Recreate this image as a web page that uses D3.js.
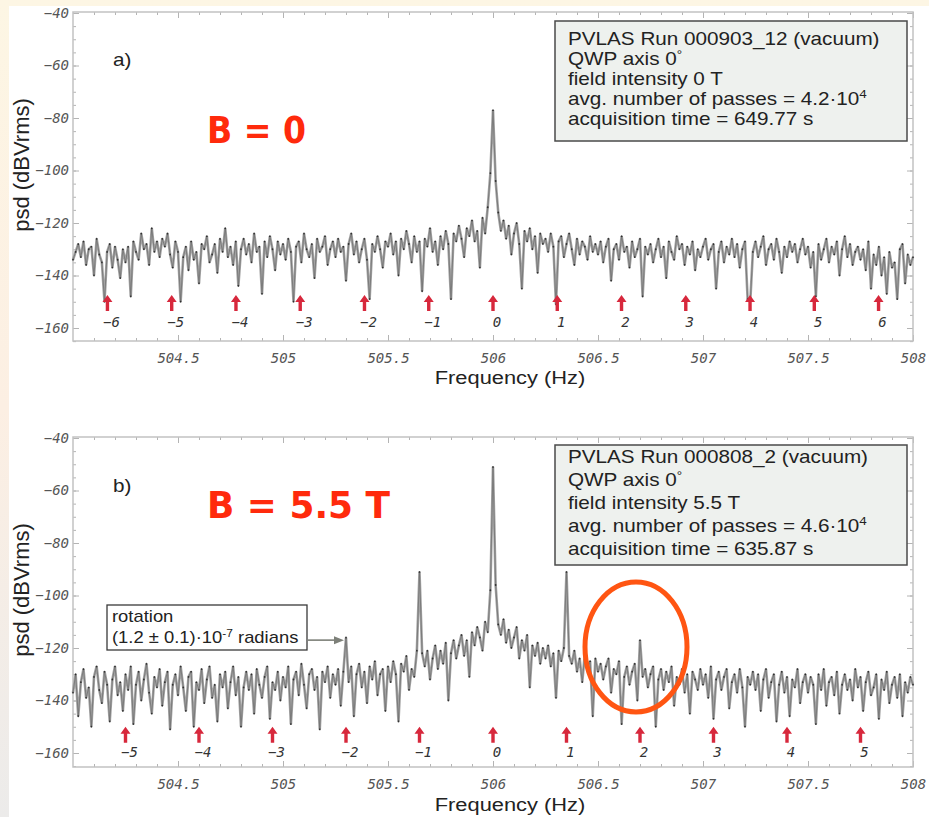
<!DOCTYPE html>
<html lang="en">
<head>
<meta charset="UTF-8" />
<script src="https://d3js.org/d3.v7.min.js"></script>
<title>PVLAS spectra</title>
<style>
  body { margin: 0; background: #fff; }
  svg text { font-family: "Liberation Sans", Arial, sans-serif; }
  .tick text { font-family: "DejaVu Sans Mono", monospace; font-style: italic; font-size: 14px; fill: #555; }
</style>
</head>
<body>
<script type="text/javascript">
// frequency grid of both spectra (Hz)
var f0 = 504.0, df = 0.0125;

// panel a) B = 0, psd in dBVrms, one row = 0.25 Hz
var psdA = [
  -134,-131,-128,-133,-127,-136,-130,-129,-140,-126,-132,-135,-150,-131,-128,-137,-129,-134,-141,-130,
  -135,-129,-148,-127,-131,-134,-124,-130,-128,-136,-122,-131,-127,-133,-126,-129,-124,-132,-137,-127,
  -131,-150,-133,-129,-138,-127,-134,-131,-143,-128,-130,-125,-135,-132,-128,-139,-126,-131,-122,-133,
  -129,-136,-127,-144,-130,-126,-132,-128,-135,-124,-131,-129,-147,-127,-133,-125,-130,-138,-127,-132,
  -128,-134,-126,-131,-150,-129,-127,-135,-124,-130,-133,-128,-141,-126,-131,-129,-125,-136,-130,-127,
  -133,-126,-131,-129,-142,-128,-124,-132,-127,-135,-130,-126,-134,-149,-128,-131,-125,-130,-137,-127,
  -129,-124,-132,-127,-140,-126,-130,-123,-128,-135,-125,-131,-127,-146,-126,-129,-122,-131,-127,-136,
  -125,-130,-123,-128,-149,-124,-127,-121,-126,-133,-122,-125,-119,-127,-123,-137,-118,-124,-114,-101,
  -77,-104,-116,-123,-119,-126,-121,-132,-124,-120,-128,-145,-123,-127,-122,-130,-125,-139,-124,-128,
  -126,-131,-124,-129,-151,-127,-125,-133,-128,-124,-130,-136,-126,-132,-127,-129,-134,-125,-131,-128,
  -132,-127,-135,-129,-126,-142,-130,-128,-134,-125,-131,-129,-137,-127,-133,-130,-126,-148,-129,-132,
  -128,-135,-130,-126,-133,-129,-141,-127,-131,-134,-125,-130,-128,-136,-129,-132,-127,-138,-130,-133,
  -129,-126,-134,-130,-128,-145,-131,-127,-135,-129,-132,-126,-133,-128,-137,-130,-127,-149,-150,-131,
  -127,-133,-129,-125,-136,-130,-128,-134,-126,-131,-139,-129,-133,-127,-131,-128,-135,-130,-126,-132,
  -129,-137,-131,-148,-128,-134,-130,-126,-135,-129,-132,-127,-140,-130,-125,-133,-128,-136,-131,-129,
  -134,-130,-138,-127,-145,-132,-136,-129,-140,-133,-147,-131,-137,-135,-149,-130,-128,-143,-132,-136,
  -133
];

// panel b) B = 5.5 T
var psdB = [
  -137,-130,-146,-133,-128,-139,-135,-150,-131,-127,-136,-141,-129,-134,-148,-132,-127,-138,-133,-144,
  -130,-136,-127,-149,-134,-129,-140,-132,-126,-137,-145,-131,-135,-128,-142,-133,-129,-151,-134,-130,
  -138,-127,-135,-144,-131,-129,-150,-133,-136,-128,-141,-132,-127,-139,-134,-148,-130,-135,-129,-143,
  -133,-127,-138,-131,-150,-135,-129,-136,-130,-145,-128,-134,-139,-131,-127,-147,-133,-136,-129,-140,
  -131,-135,-127,-149,-132,-129,-138,-126,-134,-143,-130,-128,-136,-131,-151,-129,-133,-127,-139,-130,
  -134,-128,-142,-129,-116,-133,-127,-146,-130,-126,-135,-129,-141,-127,-132,-125,-138,-130,-128,-144,
  -127,-133,-125,-130,-148,-126,-129,-123,-136,-128,-131,-121,-91,-122,-127,-121,-132,-124,-119,-128,
  -121,-126,-118,-140,-122,-117,-124,-119,-115,-123,-117,-131,-114,-119,-112,-116,-121,-110,-114,-98,
  -51,-96,-111,-115,-109,-118,-113,-120,-116,-112,-124,-117,-121,-115,-135,-119,-123,-118,-126,-120,
  -124,-119,-127,-122,-139,-121,-125,-120,-91,-123,-126,-121,-129,-124,-133,-122,-128,-125,-146,-124,
  -129,-126,-132,-127,-124,-137,-128,-130,-125,-149,-131,-127,-134,-129,-126,-140,-117,-131,-128,-135,
  -130,-127,-150,-132,-128,-136,-129,-133,-127,-142,-131,-134,-128,-137,-130,-145,-129,-132,-136,-128,
  -134,-130,-139,-127,-147,-132,-129,-136,-131,-128,-143,-133,-130,-137,-128,-135,-150,-131,-134,-129,
  -136,-130,-144,-132,-128,-139,-133,-130,-148,-134,-129,-137,-131,-146,-132,-135,-128,-141,-133,-130,
  -137,-131,-134,-149,-130,-136,-128,-142,-133,-131,-138,-129,-145,-134,-130,-136,-132,-140,-128,-135,
  -131,-144,-133,-129,-138,-135,-130,-147,-132,-136,-129,-141,-134,-131,-139,-130,-146,-133,-137,-131,
  -134
];

// red harmonic markers
var harmA = [-6, -5, -4, -3, -2, -1, 0, 1, 2, 3, 4, 5, 6];
var harmFreqA = [504.164, 504.470, 504.776, 505.082, 505.388, 505.694, 506.000, 506.306, 506.612, 506.918, 507.224, 507.530, 507.836];
var harmB = [-5, -4, -3, -2, -1, 0, 1, 2, 3, 4, 5];
var harmFreqB = [504.25, 504.60, 504.95, 505.30, 505.65, 506.00, 506.35, 506.70, 507.05, 507.40, 507.75];

var xTicks = [504.5, 505, 505.5, 506, 506.5, 507, 507.5, 508];
var yTicks = [-160, -140, -120, -100, -80, -60, -40];

var infoA = [["PVLAS Run 000903_12 (vacuum)"], ["QWP axis 0", "\u00b0"], ["field intensity 0 T"],
             ["avg. number of passes = 4.2\u00b710", "4"], ["acquisition time = 649.77 s"]];
var infoB = [["PVLAS Run 000808_2 (vacuum)"], ["QWP axis 0", "\u00b0"], ["field intensity 5.5 T"],
             ["avg. number of passes = 4.6\u00b710", "4"], ["acquisition time = 635.87 s"]];
var note = [["rotation"], ["(1.2 \u00b1 0.1)\u00b710", "-7", " radians"]];

var W = 929, H = 817;
var svg = d3.select("body").append("svg").attr("width", W).attr("height", H);

var grad = svg.append("defs").append("linearGradient").attr("id", "bg")
  .attr("x1", 0).attr("y1", 0).attr("x2", 0).attr("y2", 1);
grad.append("stop").attr("offset", 0).attr("stop-color", "#fdf6e4");
grad.append("stop").attr("offset", 0.5).attr("stop-color", "#fcefe3");
grad.append("stop").attr("offset", 1).attr("stop-color", "#ecebea");
svg.append("rect").attr("width", W).attr("height", H).attr("fill", "url(#bg)");
svg.append("rect").attr("x", 9).attr("y", 6).attr("width", W - 9).attr("height", H - 6).attr("fill", "#fff");

// text stretched a bit horizontally, like the original figure
function addText(g, px, py, size, parts, anchor) {
  var t = g.append("text")
    .attr("transform", "translate(" + px + "," + py + ") scale(1.15,1)")
    .attr("text-anchor", anchor || "start")
    .style("font-size", size + "px").attr("fill", "#222");
  t.append("tspan").text(parts[0]);
  if (parts[1]) t.append("tspan").attr("dy", -size * 0.4).style("font-size", (size * 0.65) + "px").text(parts[1]);
  if (parts[2]) t.append("tspan").attr("dy", size * 0.4).style("font-size", size + "px").text(parts[2]);
  return t;
}

var x = d3.scaleLinear().domain([504, 508]).range([73, 913]);

function panel(cfg) {
  var g = svg.append("g");
  var y = d3.scaleLinear().domain([-160, -40]).range([cfg.y160, cfg.y40]);
  var top = cfg.top, bottom = cfg.bottom;

  function styleAxis(a) {
    a.select(".domain").remove();
    a.selectAll(".tick line").attr("stroke", "#b4b4b4");
  }
  var minorX = d3.range(504.1, 508, 0.1);
  var minorY = d3.range(-165, -39, 5);

  g.append("g").attr("transform", "translate(0," + bottom + ")")
    .call(d3.axisBottom(x).tickValues(minorX).tickSizeInner(-3).tickSizeOuter(0).tickFormat("")).call(styleAxis);
  g.append("g").attr("transform", "translate(0," + bottom + ")")
    .call(d3.axisBottom(x).tickValues(xTicks).tickSizeInner(-6).tickSizeOuter(0).tickPadding(12)
      .tickFormat(function(d) { return d3.format("")(d); })).call(styleAxis);
  g.append("g").attr("transform", "translate(0," + top + ")")
    .call(d3.axisTop(x).tickValues(minorX).tickSizeInner(-3).tickSizeOuter(0).tickFormat("")).call(styleAxis);
  g.append("g").attr("transform", "translate(0," + top + ")")
    .call(d3.axisTop(x).tickValues(xTicks).tickSizeInner(-6).tickSizeOuter(0).tickFormat("")).call(styleAxis);
  g.append("g").attr("transform", "translate(73,0)")
    .call(d3.axisLeft(y).tickValues(minorY).tickSizeInner(-3).tickSizeOuter(0).tickFormat("")).call(styleAxis);
  g.append("g").attr("transform", "translate(73,0)")
    .call(d3.axisLeft(y).tickValues(yTicks).tickSizeInner(-6).tickSizeOuter(0).tickPadding(4)
      .tickFormat(d3.format(""))).call(styleAxis);
  g.append("g").attr("transform", "translate(913,0)")
    .call(d3.axisRight(y).tickValues(minorY).tickSizeInner(-3).tickSizeOuter(0).tickFormat("")).call(styleAxis);
  g.append("g").attr("transform", "translate(913,0)")
    .call(d3.axisRight(y).tickValues(yTicks).tickSizeInner(-6).tickSizeOuter(0).tickFormat("")).call(styleAxis);

  g.append("rect").attr("x", 73).attr("y", top).attr("width", 840).attr("height", bottom - top)
    .attr("fill", "none").attr("stroke", "#c2c2c2").attr("stroke-width", 1.5);

  // spectrum: wide light trace with a thin dark core
  var line = d3.line().x(function(d, i) { return x(f0 + i * df); }).y(function(d) { return y(d); });
  g.append("path").datum(cfg.data).attr("d", line)
    .attr("fill", "none").attr("stroke", "#a4a4a4").attr("stroke-width", 2.6).attr("stroke-linejoin", "bevel");
  g.append("path").datum(cfg.data).attr("d", line)
    .attr("fill", "none").attr("stroke", "#6a6a6a").attr("stroke-width", 0.7);
  g.selectAll("circle.pt").data(cfg.data).enter().append("circle").attr("class", "pt")
    .attr("cx", function(d, i) { return x(f0 + i * df); }).attr("cy", function(d) { return y(d); })
    .attr("r", 0.9).attr("fill", "#1a1a1a").attr("opacity", 0.8);

  // harmonic arrows
  var arrow = "M0,0L-5,7L-1.7,7L-1.7,16L1.7,16L1.7,7L5,7Z";
  g.selectAll("path.harm").data(cfg.harmFreq).enter().append("path").attr("class", "harm")
    .attr("transform", function(d) { return "translate(" + x(d) + "," + y(cfg.arrowTip) + ")"; })
    .attr("d", arrow).attr("fill", "#d7283c");
  g.selectAll("text.harm").data(cfg.harm).enter().append("text").attr("class", "harm")
    .attr("x", function(d, i) { return x(cfg.harmFreq[i]) + 4; }).attr("y", y(cfg.labelAt))
    .attr("text-anchor", "middle")
    .style("font-family", "'DejaVu Sans Mono', monospace").style("font-style", "italic")
    .style("font-size", "14px").attr("fill", "#333")
    .text(function(d) { return d3.format("")(d); });

  // axis titles
  addText(g, 510, cfg.xTitleY, 19, ["Frequency (Hz)"], "middle");
  g.append("text").attr("transform", "translate(29," + (top + 153) + ") rotate(-90)")
    .attr("text-anchor", "middle").style("font-size", "22px").attr("fill", "#222").text("psd (dBVrms)");

  addText(g, 113, cfg.tagY, 18, [cfg.tag]);

  // info box
  g.append("rect").attr("x", 555).attr("y", cfg.boxY).attr("width", 352).attr("height", 120)
    .attr("fill", "#eef1ee").attr("stroke", "#4a4a4a").attr("stroke-width", 1.5);
  cfg.info.forEach(function(p, i) { addText(g, 568, cfg.boxY + cfg.line0 + i * cfg.lineStep, 18, p); });

  g.append("text").attr("x", 207).attr("y", cfg.bY).attr("textLength", cfg.bLen).attr("lengthAdjust", "spacingAndGlyphs")
    .style("font-family", "'DejaVu Sans', sans-serif").style("font-weight", "bold").style("font-size", "38px")
    .attr("fill", "#ff2a0c").text(cfg.bText);

  return {g: g, y: y};
}

var pa = panel({data: psdA, top: 12, bottom: 341, y40: 13, y160: 328, harm: harmA, harmFreq: harmFreqA,
  arrowTip: -147.4, labelAt: -159.6, xTitleY: 384, tag: "a)", tagY: 66, boxY: 21, line0: 24, lineStep: 20,
  info: infoA, bY: 143, bLen: 99, bText: "B = 0"});
var pb = panel({data: psdB, top: 437, bottom: 767, y40: 438, y160: 753, harm: harmB, harmFreq: harmFreqB,
  arrowTip: -150, labelAt: -161.5, xTitleY: 811, tag: "b)", tagY: 492, boxY: 445, line0: 18, lineStep: 23,
  info: infoB, bY: 518, bLen: 183, bText: "B = 5.5 T"});

// rotation annotation
var gb = pb.g, yb = pb.y;
gb.append("rect").attr("x", 107).attr("y", 605).attr("width", 200).attr("height", 45)
  .attr("fill", "#fff").attr("stroke", "#3a3a3a").attr("stroke-width", 1.3);
addText(gb, 112, 622, 16, note[0]);
addText(gb, 112, 643, 16, note[1]);
var tipX = x(505.3) - 2, tipY = yb(-117);
gb.append("line").attr("x1", 308).attr("y1", tipY).attr("x2", tipX - 8).attr("y2", tipY)
  .attr("stroke", "#7d8079").attr("stroke-width", 1.6);
gb.append("path").attr("d", "M" + tipX + "," + tipY + "l-10,-4l0,8z").attr("fill", "#7d8079");

// highlight ellipse
gb.append("ellipse").attr("cx", x(506.7) - 4).attr("cy", yb(-119.6)).attr("rx", 51).attr("ry", 65)
  .attr("fill", "none").attr("stroke", "#ff5512").attr("stroke-width", 5);
</script>
</body>
</html>
